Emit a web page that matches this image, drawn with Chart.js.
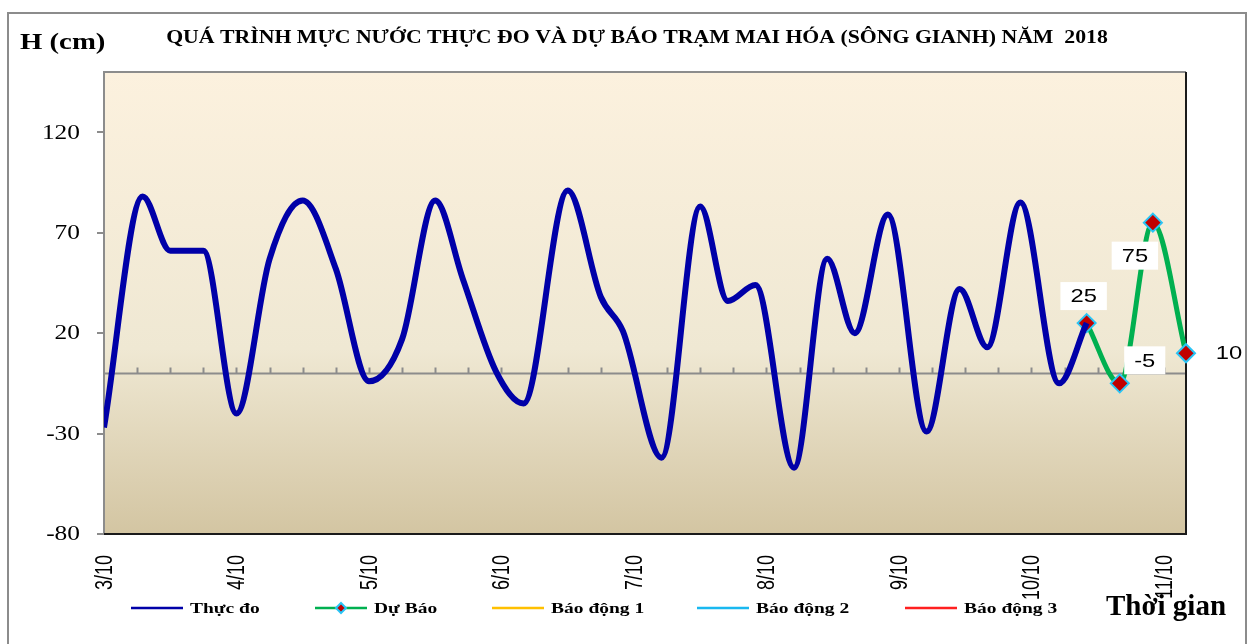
<!DOCTYPE html>
<html>
<head>
<meta charset="utf-8">
<script src="https://cdn.jsdelivr.net/npm/chart.js@4/dist/chart.umd.min.js"></script>
<style>
  html, body { margin: 0; padding: 0; background: #fff; overflow: hidden; }
  #wrap { position: relative; width: 1254px; height: 644px; }
  #frame { position: absolute; left: 7px; top: 12px; width: 1240px; height: 700px; border: 2px solid #8c8c8c; box-sizing: border-box; }
  canvas { position: absolute; left: 0; top: 0; }
</style>
</head>
<body>
<div id="wrap">
  <div id="frame"></div>
  <canvas id="chart" width="1254" height="644"></canvas>
</div>
<script>
// x axis is in hours from 3/10 00h, one label per day
const dayLabels = ['3/10', '4/10', '5/10', '6/10', '7/10', '8/10', '9/10', '10/10', '11/10'];
const dayHours = [0, 24, 48, 72, 96, 120, 144, 168, 192];
const yTicks = [-80, -30, 20, 70, 120];

const measuredHours = [0, 7, 12, 18, 24, 30, 36, 42, 48, 54, 60, 65, 71, 76, 84, 90, 94, 101, 108, 113, 118, 125, 131, 136, 142, 149, 155, 160, 166, 173, 178];
const measuredValues = [-27, 88, 61, 61, -20, 57, 86, 52, -4, 17, 86, 47, 1, -15, 91, 38, 21, -42, 83, 36, 44, -47, 57, 20, 79, -29, 42, 13, 85, -5, 25];

// forecast
const forecastHours = [178, 184, 190, 196];
const forecastValues = [25, -5, 75, 10];

const seriesNames = ['Thực đo', 'Dự Báo', 'Báo động 1', 'Báo động 2', 'Báo động 3'];
const titleText = 'QUÁ TRÌNH MỰC NƯỚC THỰC ĐO VÀ DỰ BÁO TRẠM MAI HÓA (SÔNG GIANH) NĂM  2018';

const toPoints = (xs, ys) => xs.map((x, i) => ({ x: x, y: ys[i] }));

// the original picture is a bit wide, so text is drawn stretched sideways
function wideText(ctx, txt, x, y, sx, align) {
  ctx.save();
  ctx.translate(x, y);
  ctx.scale(sx, 1);
  ctx.textAlign = align;
  ctx.fillText(txt, 0, 0);
  ctx.restore();
}

// background gradient + frame of the plot area
const plotBox = {
  id: 'plotBox',
  beforeDraw(chart) {
    const { ctx, chartArea: a } = chart;
    const g = ctx.createLinearGradient(0, a.top, 0, a.bottom);
    g.addColorStop(0, '#fcf1de');
    g.addColorStop(0.6, '#efe8d3');
    g.addColorStop(1, '#d3c5a2');
    ctx.save();
    ctx.fillStyle = g;
    ctx.fillRect(a.left, a.top, a.right - a.left, a.bottom - a.top);
    ctx.restore();
  },
  beforeDatasetsDraw(chart) {
    const { ctx, chartArea: a, scales } = chart;
    ctx.save();
    // zero line with small ticks every 6 hours
    const y0 = Math.round(scales.y.getPixelForValue(0)) + 0.5;
    ctx.strokeStyle = '#8c8c8c';
    ctx.lineWidth = 2;
    ctx.beginPath();
    ctx.moveTo(a.left, y0);
    ctx.lineTo(a.right, y0);
    for (let h = scales.x.min + 6; h < scales.x.max; h += 6) {
      const x = Math.round(scales.x.getPixelForValue(h)) + 0.5;
      ctx.moveTo(x, y0);
      ctx.lineTo(x, y0 - 6);
    }
    ctx.stroke();
    ctx.beginPath();
    ctx.moveTo(a.left, a.top);
    ctx.lineTo(a.right, a.top);
    ctx.stroke();
    ctx.strokeStyle = '#1a1a1a';
    ctx.beginPath();
    ctx.moveTo(a.left, a.bottom);
    ctx.lineTo(a.right, a.bottom);
    ctx.lineTo(a.right, a.top);
    ctx.stroke();

    // axis labels
    ctx.fillStyle = '#000';
    ctx.textBaseline = 'middle';
    ctx.font = '20px "Liberation Serif"';
    yTicks.forEach(v => wideText(ctx, String(v), 80, scales.y.getPixelForValue(v) + 1, 1.27, 'right'));

    ctx.font = '18px "Liberation Sans"';
    dayHours.forEach((h, i) => {
      ctx.save();
      ctx.translate(scales.x.getPixelForValue(h) + 1, a.bottom + 21);
      ctx.scale(1.35, 1);
      ctx.rotate(-Math.PI / 2);
      ctx.textAlign = 'right';
      ctx.fillText(dayLabels[i], 0, 0);
      ctx.restore();
    });
    ctx.restore();
  }
};

// texts, data labels and legend
const decorations = {
  id: 'decorations',
  afterDraw(chart) {
    const { ctx } = chart;
    ctx.save();
    ctx.fillStyle = '#000';
    ctx.textBaseline = 'middle';

    ctx.font = 'bold 18px "Liberation Serif"';
    wideText(ctx, titleText, 637, 38, 1.21, 'center');

    ctx.font = 'bold 23px "Liberation Serif"';
    wideText(ctx, 'H (cm)', 20, 43, 1.25, 'left');

    ctx.font = 'bold 29px "Liberation Serif"';
    wideText(ctx, 'Thời gian', 1106, 608, 1, 'left');

    // forecast value labels
    const offsets = [[-3, -27, true], [25, -23, true], [-18, 33, true], [43, 0, false]];
    const meta = chart.getDatasetMeta(1);
    ctx.font = '19px "Liberation Sans"';
    meta.data.forEach((pt, i) => {
      const [dx, dy, box] = offsets[i];
      const txt = String(forecastValues[i]);
      const w = ctx.measureText(txt).width * 1.25 + 20;
      if (box) {
        ctx.fillStyle = '#fff';
        ctx.fillRect(pt.x + dx - w / 2, pt.y + dy - 14, w, 28);
      }
      ctx.fillStyle = '#000';
      wideText(ctx, txt, pt.x + dx, pt.y + dy + 1, 1.25, 'center');
    });

    // legend
    const legendX = [131, 315, 492, 697, 905];
    const ly = 608;
    ctx.font = 'bold 15px "Liberation Serif"';
    chart.data.datasets.forEach((ds, i) => {
      const x = legendX[i];
      ctx.strokeStyle = ds.borderColor;
      ctx.lineWidth = 2.5;
      ctx.beginPath();
      ctx.moveTo(x, ly);
      ctx.lineTo(x + 52, ly);
      ctx.stroke();
      if (ds.pointRadius > 0) {
        ctx.fillStyle = ds.pointBackgroundColor;
        ctx.strokeStyle = ds.pointBorderColor;
        ctx.lineWidth = 2;
        Chart.helpers.drawPoint(ctx, { pointStyle: 'rectRot', radius: 5, borderWidth: 2 }, x + 26, ly);
      }
      ctx.fillStyle = '#000';
      wideText(ctx, ds.label, x + 59, ly + 1, 1.3, 'left');
    });
    ctx.restore();
  }
};

new Chart(document.getElementById('chart'), {
  type: 'line',
  data: {
    datasets: [
      {
        label: seriesNames[0],
        data: toPoints(measuredHours, measuredValues),
        borderColor: '#0000a8',
        borderWidth: 6,
        pointRadius: 0,
        cubicInterpolationMode: 'monotone'
      },
      {
        label: seriesNames[1],
        data: toPoints(forecastHours, forecastValues),
        borderColor: '#00b050',
        borderWidth: 5,
        pointStyle: 'rectRot',
        pointRadius: 9,
        pointBorderWidth: 2,
        pointBorderColor: '#29c5f6',
        pointBackgroundColor: '#c00000',
        cubicInterpolationMode: 'monotone',
        clip: false
      },
      { label: seriesNames[2], data: [], borderColor: '#ffc000', pointRadius: 0 },
      { label: seriesNames[3], data: [], borderColor: '#19b8f0', pointRadius: 0 },
      { label: seriesNames[4], data: [], borderColor: '#ff2020', pointRadius: 0 }
    ]
  },
  options: {
    responsive: false,
    animation: false,
    layout: { padding: { left: 20, top: 72, right: 68, bottom: 50 } },
    plugins: {
      legend: { display: false },
      tooltip: { enabled: false }
    },
    scales: {
      x: {
        type: 'linear',
        min: 0,
        max: 196,
        grid: { display: false },
        border: { display: false },
        afterBuildTicks: s => { s.ticks = dayHours.map(v => ({ value: v })); },
        afterFit: s => { s.height = 60; },
        ticks: { display: false }
      },
      y: {
        min: -80,
        max: 150,
        grid: { drawOnChartArea: false, drawTicks: true, tickLength: 7, color: '#8c8c8c', lineWidth: 2 },
        border: { display: true, color: '#8c8c8c', width: 2 },
        afterBuildTicks: s => { s.ticks = yTicks.map(v => ({ value: v })); },
        afterFit: s => { s.width = 84; },
        ticks: { display: false }
      }
    }
  },
  plugins: [plotBox, decorations]
});
</script>
</body>
</html>
